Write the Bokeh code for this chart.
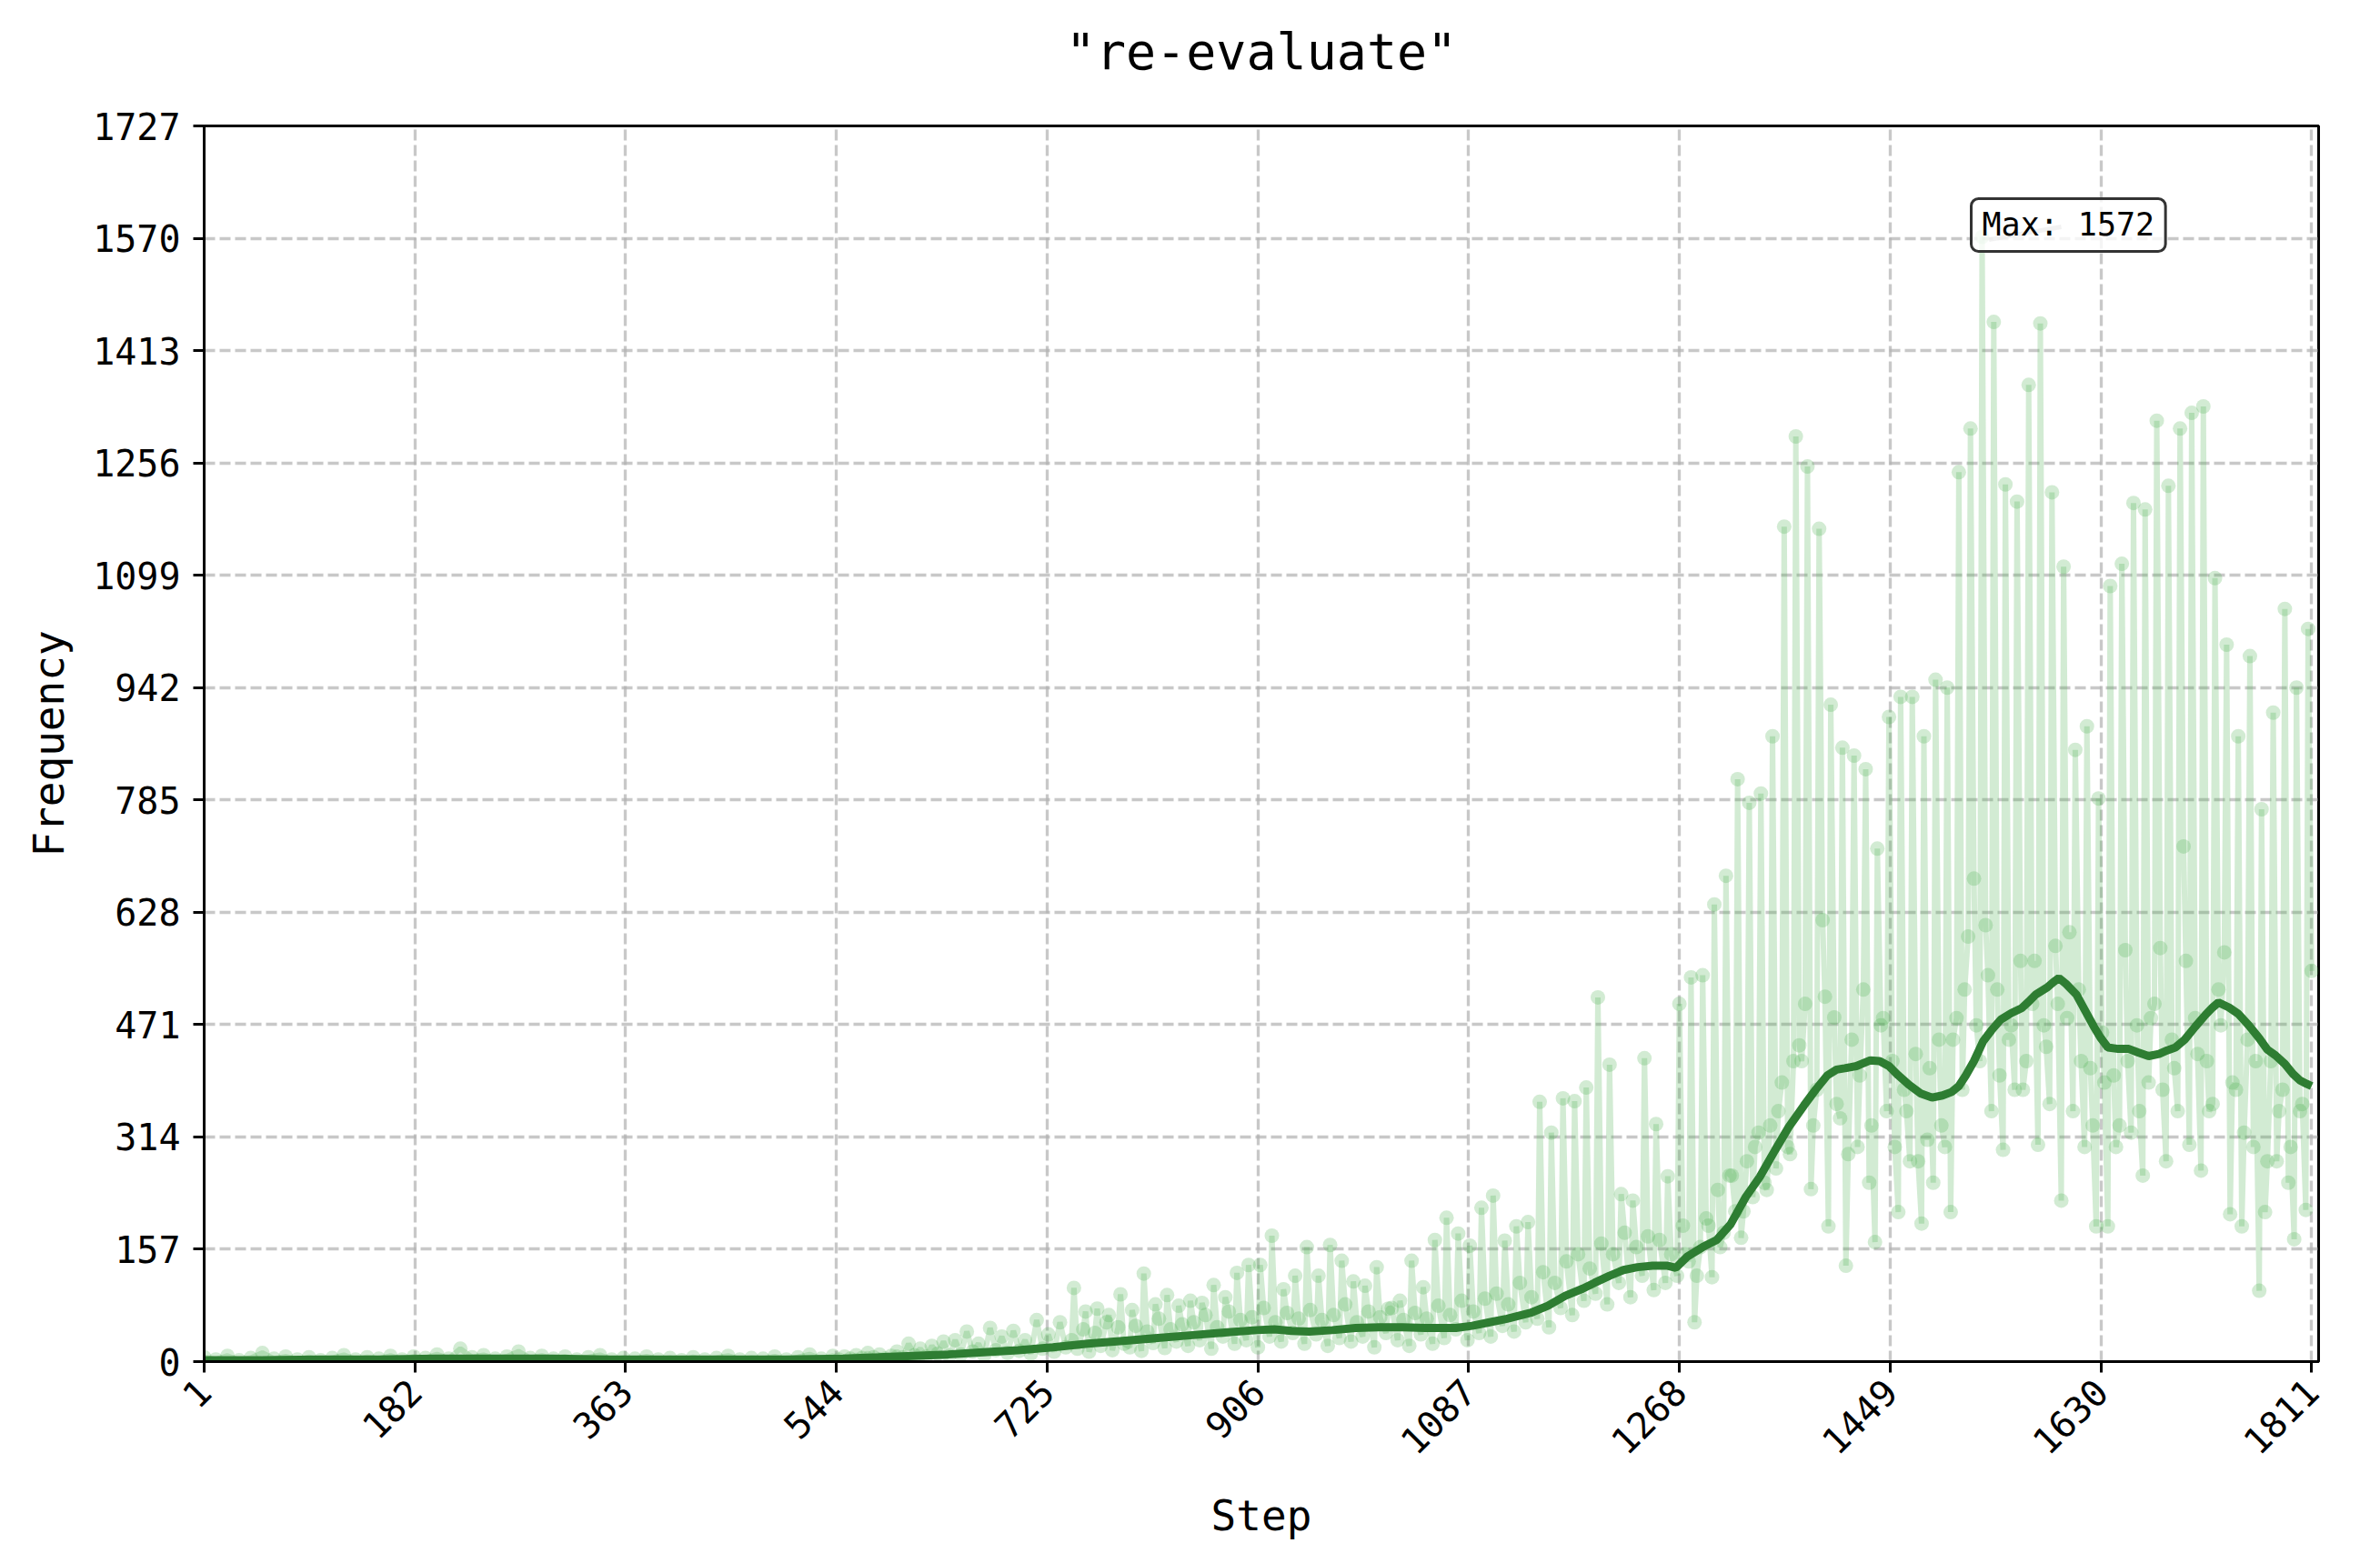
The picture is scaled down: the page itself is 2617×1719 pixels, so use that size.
import math
from bokeh.plotting import figure
from bokeh.models import Range1d, FixedTicker, Label, ColumnDataSource, Title
from bokeh.embed import file_html
from bokeh.resources import INLINE

# ---------------- data ----------------
title_text = '"re-evaluate"'
x_label = "Step"
y_label = "Frequency"
x_ticks = [1, 182, 363, 544, 725, 906, 1087, 1268, 1449, 1630, 1811]
y_ticks = [0, 157, 314, 471, 628, 785, 942, 1099, 1256, 1413, 1570, 1727]

# raw counts, steps 1..541 (every 10th step)
early_vals = [6, 3, 8, 2, 5, 12, 4, 7, 3, 6,
              2, 5, 9, 3, 6, 4, 8, 3, 7, 5,
              10, 4, 18, 6, 9, 4, 7, 14, 5, 8,
              4, 7, 3, 6, 9, 3, 5, 4, 7, 3,
              5, 2, 6, 3, 5, 8, 3, 5, 4, 7,
              3, 6, 10, 4, 8]
early_steps = list(range(1, 542, 10))

# raw counts, steps 546..1811 (every 5th step)
late_vals = [3, 7, 4, 9, 5, 12, 6, 10, 4, 8,
             14, 6, 25, 9, 18, 7, 22, 11, 28, 8,
             30, 10, 42, 14, 25, 9, 47, 16, 35, 12,
             43, 15, 30, 11, 58, 18, 38, 14, 55, 20,
             30, 18, 45, 14, 40, 22, 55, 16, 48, 25,
             20, 50, 15, 42, 26, 60, 19, 45, 28, 52,
             22, 55, 30, 65, 18, 48, 35, 70, 25, 58,
             30, 62, 20, 75, 35, 55, 28, 68, 40, 60,
             25, 72, 38, 58, 22, 65, 33, 80, 28, 55,
             35, 70, 20, 62, 40, 75, 30, 58, 22, 68,
             38, 60, 25, 78, 33, 65, 45, 85, 30, 70,
             40, 88, 35, 95, 50, 80, 42, 110, 55, 90,
             60, 125, 48, 110, 75, 140, 65, 150, 85, 130,
             95, 165, 80, 150, 110, 180, 90, 160, 120, 175,
             100, 170, 110, 150, 120, 190, 140, 55, 160, 200,
             118, 240, 180, 260, 210, 173, 280, 230, 320, 250,
             330, 270, 390, 300, 420, 442, 500, 241, 380, 617,
             189, 481, 340, 134, 450, 300, 520, 250, 167, 470,
             350, 420, 209, 380, 280, 430, 193, 310, 250, 450,
             300, 209, 480, 380, 594, 675, 420, 610, 350, 520,
             296, 450, 380, 560, 420, 500, 303, 470, 360, 581,
             225, 480, 350, 520, 300, 410, 189, 460, 189, 400,
             330, 575, 320, 470, 260, 390, 500, 578, 280, 450,
             350, 720, 303, 480, 267, 420, 360, 520, 572, 206,
             380, 189, 450, 300, 99, 209, 420, 280, 380, 250,
             171, 350, 212, 546]
late_steps = list(range(546, 1812, 5))

# extra raw counts inside the dense band, steps 1273..1803 (every 10th step)
band_vals = [150, 120, 190, 160, 260, 210, 300, 240, 350, 290,
             420, 330, 510, 360, 290, 400, 330, 480, 300, 350,
             280, 410, 330, 450, 520, 470, 540, 400, 470, 380,
             560, 440, 500, 600, 420, 330, 390, 300, 420, 350,
             480, 380, 410, 560, 430, 350, 470, 390, 320, 420,
             280, 350, 300, 360]
band_steps = list(range(1273, 1804, 10))

# recurring peaks, steps 748..1808 (every 10th step)
peak_vals = [103, 70, 74, 65, 94, 72, 123, 80, 93, 78,
             85, 82, 107, 90, 124, 135, 135, 176, 101, 120,
             160, 120, 163, 141, 112, 106, 132, 74, 85, 141,
             104, 170, 201, 179, 162, 215, 232, 169, 189, 195,
             363, 320, 368, 364, 383, 509, 415, 234, 225, 424,
             332, 259, 500, 537, 540, 639, 679, 814, 781, 794,
             874, 1167, 1293, 1251, 1164, 918, 858, 847, 828, 717,
             901, 929, 929, 874, 953, 942, 1243, 1304, 1572, 1453,
             1226, 1202, 1365, 1451, 1215, 1111, 855, 888, 787, 1084,
             1115, 1200, 1191, 1315, 1224, 1304, 1326, 1335, 1095, 1002,
             874, 986, 772, 907, 1052, 942, 1024]
peak_steps = list(range(748, 1809, 10))

# moving-average trend (step, value)
trend = [(1, 2), (50, 2), (100, 3), (150, 3), (200, 4), (250, 4), (300, 4), (350, 3),
         (400, 3), (450, 3), (500, 3), (550, 4), (580, 6), (610, 8), (640, 10), (670, 13),
         (700, 16), (730, 20), (760, 25), (790, 29), (820, 33), (850, 37), (880, 41),
         (905, 44), (920, 45), (935, 43), (950, 42), (970, 44), (990, 47), (1010, 48),
         (1030, 48), (1050, 47), (1076, 47), (1090, 50), (1105, 55), (1120, 60), (1140, 68),
         (1155, 78), (1170, 92), (1185, 102), (1195, 110), (1208, 120), (1220, 128),
         (1232, 132), (1245, 134), (1258, 134), (1265, 131), (1275, 147), (1288, 160),
         (1300, 170), (1312, 192), (1325, 230), (1337, 258), (1350, 295), (1362, 328),
         (1375, 358), (1385, 380), (1395, 400), (1403, 408), (1410, 410), (1420, 413),
         (1432, 421), (1440, 420), (1448, 413), (1456, 400), (1465, 387), (1475, 375),
         (1485, 369), (1494, 372), (1502, 377), (1508, 385), (1514, 400), (1521, 420),
         (1529, 448), (1536, 463), (1544, 478), (1553, 487), (1562, 494), (1568, 503),
         (1574, 513), (1579, 518), (1584, 523), (1589, 530), (1594, 536), (1600, 528),
         (1609, 513), (1616, 492), (1624, 468), (1630, 452), (1636, 439), (1645, 437),
         (1654, 437), (1662, 432), (1671, 427), (1680, 430), (1687, 435), (1694, 439),
         (1702, 450), (1711, 468), (1720, 485), (1726, 495), (1731, 502), (1740, 495),
         (1748, 486), (1757, 470), (1766, 452), (1773, 436), (1780, 428), (1788, 416),
         (1795, 402), (1801, 393), (1807, 388), (1811, 385)]

# ---------------- assemble ----------------
raw_pairs = sorted(list(zip(early_steps, early_vals)) + list(zip(late_steps, late_vals))
                   + list(zip(band_steps, band_vals)) + list(zip(peak_steps, peak_vals)))
raw_x = [s for s, _ in raw_pairs]
raw_y = [v for _, v in raw_pairs]
trend_x = [s for s, _ in trend]
trend_y = [v for _, v in trend]

max_idx = max(range(len(raw_y)), key=lambda i: raw_y[i])
max_step, max_val = raw_x[max_idx], raw_y[max_idx]

FONT = "DejaVu Sans Mono"
TICK_PX = 40

p = figure(width=2600, height=1700,
           x_range=Range1d(1, 1817), y_range=Range1d(0, 1727),
           output_backend="svg", toolbar_location=None,
           min_border_left=224, min_border_right=51,
           min_border_top=137, min_border_bottom=203)

p.background_fill_color = "white"
p.border_fill_color = "white"
p.outline_line_color = "black"
p.outline_line_width = 3
p.outline_line_alpha = 1.0

# main title (outer panel)
p.title.text = title_text
p.title.align = "center"
p.title.text_font = FONT
p.title.text_font_size = "55px"
p.title.text_font_style = "normal"
p.title.text_color = "black"
p.title.standoff = 44
# thin spacer panel between title and frame
p.add_layout(Title(text=" ", text_font_size="1px", standoff=25), "above")

p.xaxis.ticker = FixedTicker(ticks=x_ticks)
p.yaxis.ticker = FixedTicker(ticks=y_ticks)
p.xaxis.axis_label = x_label
p.yaxis.axis_label = y_label
for ax in (p.xaxis, p.yaxis):
    ax.axis_label_text_font = FONT
    ax.axis_label_text_font_size = "46px"
    ax.axis_label_text_font_style = "normal"
    ax.axis_label_text_color = "black"
    ax.major_label_text_font = FONT
    ax.major_label_text_font_size = f"{TICK_PX}px"
    ax.major_label_text_color = "black"
    ax.axis_line_width = 3
    ax.axis_line_color = "black"
    ax.major_tick_line_width = 3
    ax.major_tick_line_color = "black"
    ax.major_tick_in = 0
    ax.major_tick_out = 12
    ax.minor_tick_line_color = None
p.xaxis.major_label_orientation = math.pi / 4
p.xaxis.major_label_standoff = 14
p.xaxis.axis_label_standoff = 24
p.yaxis.major_label_standoff = 14
p.yaxis.axis_label_standoff = 18

p.grid.grid_line_color = "#b0b0b0"
p.grid.grid_line_alpha = 0.7
p.grid.grid_line_width = 3.3
p.grid.grid_line_dash = "12 5"

raw_src = ColumnDataSource(dict(x=raw_x, y=raw_y))
p.line("x", "y", source=raw_src, line_color="#4caf50", line_alpha=0.25, line_width=6)
p.scatter("x", "y", source=raw_src, size=16, fill_color="#4caf50", fill_alpha=0.25,
          line_color=None)

p.line(trend_x, trend_y, line_color="#2e7d32", line_width=9)

# pointer from the peak toward its label
p.segment(x0=[max_step + 6], y0=[max_val - 4], x1=[max_step + 68], y1=[max_val + 14],
          line_color="gray", line_alpha=0.5, line_width=5)

lab = Label(x=max_step, y=max_val, text=f"Max: {max_val}",
            x_offset=-12, y_offset=13, text_align="left", text_baseline="middle",
            text_font=FONT, text_font_size="35px", text_color="black",
            background_fill_color="white", background_fill_alpha=0.8,
            border_line_color="#333333", border_line_width=3,
            border_radius=8, padding=(12, 9))
p.add_layout(lab)

open("out.html", "w").write(file_html(p, INLINE))
